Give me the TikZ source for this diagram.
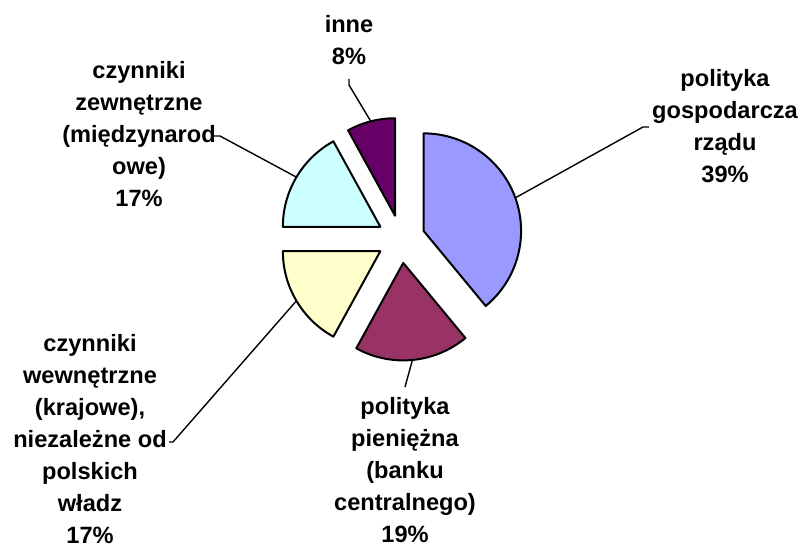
\documentclass[tikz,border=0pt]{standalone}
\usepackage{fontspec}
\setmainfont{Liberation Sans}
\usetikzlibrary{calc}

\definecolor{colGosp}{HTML}{9999FF}
\definecolor{colPien}{HTML}{993366}
\definecolor{colWewn}{HTML}{FFFFCC}
\definecolor{colZewn}{HTML}{CCFFFF}
\definecolor{colInne}{HTML}{660066}

\begin{document}
\begin{tikzpicture}[x=0.5pt,y=0.5pt,
    lbl/.style={align=center,inner sep=1pt,font=\fontsize{11.8}{16}\selectfont\bfseries},
    slice/.style={draw=black,line width=1pt,line join=round},
    leader/.style={draw=black,line width=0.7pt}]
  \useasboundingbox (0,0) rectangle (801,546);
  \coordinate (c) at (401,307);
  \foreach \a/\b/\col/\nm in {-50.4/90/colGosp/gosp, -118.8/-50.4/colPien/pien,
      -180/-118.8/colWewn/wewn, 118.8/180/colZewn/zewn, 90/118.8/colInne/inne}
  {
    \pgfmathsetmacro{\m}{(\a+\b)/2}
    \draw[slice,fill=\col] ($(c)+(\m:24)$) -- ++(\a:97.5)
      arc[start angle=\a,end angle=\b,radius=97.5] -- cycle;
    \coordinate (s-\nm) at ($(c)+(\m:121.5)$);
  }

  \node[lbl] (l-gosp) at (725,420) {polityka\\gospodarcza\\rządu\\39\%};
  \node[lbl] (l-inne) at (349,505.5) {inne\\8\%};
  \node[lbl] (l-zewn) at (139,411.5) {czynniki\\zewnętrzne\\(międzynarod\\owe)\\17\%};
  \node[lbl] (l-wewn) at (90,107) {czynniki\\wewnętrzne\\(krajowe),\\niezależne od\\polskich\\władz\\17\%};
  \node[lbl] (l-pien) at (405,76) {polityka\\pieniężna\\(banku\\centralnego)\\19\%};

  \coordinate (k-gosp) at (643,419);
  \coordinate (k-inne) at (349,461);
  \coordinate (k-zewn) at (220,410);
  \coordinate (k-wewn) at (173,104);
  \coordinate (k-pien) at (405,159);

  \draw[leader] (s-gosp) -- (k-gosp) -- ++(6,0);
  \draw[leader] (s-inne) -- (k-inne) -- ++(0,6);
  \draw[leader] (s-zewn) -- (k-zewn) -- ++(-7,0);
  \draw[leader] (s-wewn) -- (k-wewn) -- ++(-4,0);
  \draw[leader] (s-pien) -- (k-pien);
\end{tikzpicture}
\end{document}
